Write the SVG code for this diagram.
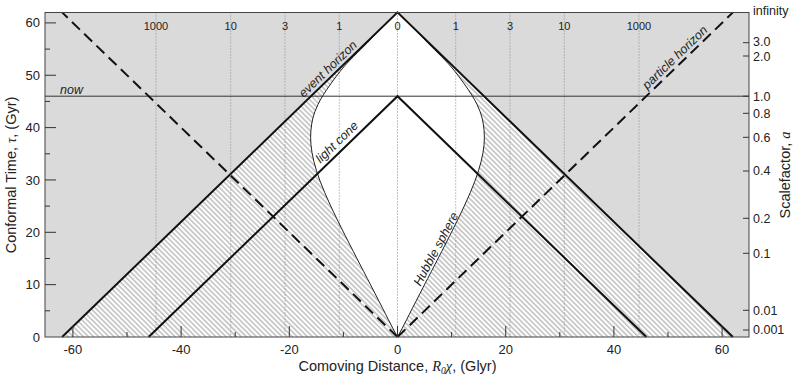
<svg xmlns="http://www.w3.org/2000/svg" width="800" height="380" viewBox="0 0 800 380">
<defs>
<style>
text{font-family:"Liberation Sans",Arial,sans-serif;fill:#222}
.num{font-size:13px}
.rnum{font-size:12.5px}
.z{font-size:11px;text-anchor:middle}
.lab{font-size:12.5px;font-style:italic}
.title{font-size:14.5px}
.serif{font-family:"Liberation Serif","Times New Roman",serif}
.thick{stroke:#111;stroke-width:2;fill:none}
.dash{stroke:#111;stroke-width:2;fill:none;stroke-dasharray:11 6}
.dot{stroke:#8a8a8a;stroke-width:1;stroke-dasharray:1 2;fill:none}
.tick{stroke:#333;stroke-width:1;fill:none}
</style>
<pattern id="hatch" patternUnits="userSpaceOnUse" width="3.6" height="3.6" patternTransform="rotate(-45)">
<rect width="3.6" height="3.6" fill="#fff"/>
<rect width="1.8" height="3.6" fill="#c9c9c9"/>
</pattern>
<path id="hub" d="M397.5,337 Q393.1,329.1 388.4,319.7 Q383.7,310.3 375.2,293.8 Q366.7,277.3 360.3,265 Q353.9,252.7 345.15,235.45 Q336.4,218.2 330.3,205.1 Q324.2,192 320.15,181.25 Q316.1,170.5 313.85,161.35 Q311.6,152.2 310.95,144.6 Q310.3,137 310.9,130.45 Q311.5,123.9 312.85,118.15 Q314.2,112.4 318.05,104.3 Q321.9,96.2 331.3,83.1 Q340.7,70 347.1,63.2 Q353.5,56.4 360.55,49.6 Q367.6,42.8 373.55,36.25 Q379.5,29.7 397.5,12.4"/>
</defs>

<g id="regions">
<rect x="45" y="12.5" width="704" height="324.5" fill="#dadada"/>
<polygon points="62.1,337 397.5,12.4 732.9,337" fill="url(#hatch)"/>
<use href="#hub" fill="#fff" stroke="none"/>
<use href="#hub" fill="#fff" stroke="none" transform="matrix(-1 0 0 1 795 0)"/>
</g>

<g id="redshift-grid">
<path class="dot" d="M156,12.5V337M230.7,12.5V337M285,12.5V337M339.3,12.5V337M397.5,12.5V337M455.7,12.5V337M510,12.5V337M564.3,12.5V337M639,12.5V337"/>
<text class="z" x="156" y="30">1000</text>
<text class="z" x="230.7" y="30">10</text>
<text class="z" x="285" y="30">3</text>
<text class="z" x="339.3" y="30">1</text>
<text class="z" x="397.5" y="30">0</text>
<text class="z" x="455.7" y="30">1</text>
<text class="z" x="510" y="30">3</text>
<text class="z" x="564.3" y="30">10</text>
<text class="z" x="639" y="30">1000</text>
</g>

<g id="connectors">
<line id="now-line" x1="45" y1="96.2" x2="749" y2="96.2" stroke="#333" stroke-width="1"/>
<use id="hubble-sphere-left" href="#hub" fill="none" stroke="#222" stroke-width="1"/>
<use id="hubble-sphere-right" href="#hub" fill="none" stroke="#222" stroke-width="1" transform="matrix(-1 0 0 1 795 0)"/>
<polyline id="event-horizon" class="thick" points="62.1,337 397.5,12.4 732.9,337"/>
<polyline id="light-cone" class="thick" points="148.6,337 397.5,96.2 646.4,337"/>
<path id="particle-horizon-left" class="dash" d="M397.5,337L62.1,12.4"/>
<path id="particle-horizon-right" class="dash" d="M397.5,337L732.9,12.4"/>
</g>

<g id="line-labels">
<text class="lab" x="60" y="94">now</text>
<text class="lab" transform="translate(306.5,100.9) rotate(-44)" y="-4">event horizon</text>
<text class="lab" transform="translate(650,92.8) rotate(-44)" y="-4">particle horizon</text>
<text class="lab" transform="translate(324,167.3) rotate(-44)" y="-5">light cone</text>
<text class="lab" transform="translate(422.8,288) rotate(-62)" y="-2.5">Hubble sphere</text>
</g>

<g id="axes">
<rect x="45" y="12.5" width="704" height="324.5" fill="none" stroke="#444" stroke-width="1"/>
<path class="tick" d="M45,284.65h11M45,232.3h11M45,179.95h11M45,127.6h11M45,75.25h11M45,22.9h11M45,310.8h5M45,258.5h5M45,206.1h5M45,153.8h5M45,101.4h5M45,49.1h5"/>
<path class="tick" d="M72.9,337v-11M181.1,337v-11M289.3,337v-11M397.5,337v-11M505.7,337v-11M613.9,337v-11M722.1,337v-11M127,337v-5M235.2,337v-5M343.4,337v-5M451.6,337v-5M559.8,337v-5M668,337v-5"/>
<path class="tick" d="M749,42.7h-6M749,56h-6M749,96.2h-6M749,113.3h-6M749,137.3h-6M749,171h-6M749,218.3h-6M749,253.3h-6M749,310.3h-6M749,330h-6"/>
<g class="num" text-anchor="end">
<text x="40" y="341.5">0</text>
<text x="40" y="289.2">10</text>
<text x="40" y="236.8">20</text>
<text x="40" y="184.5">30</text>
<text x="40" y="132.1">40</text>
<text x="40" y="79.8">50</text>
<text x="40" y="27.4">60</text>
</g>
<g class="num" text-anchor="middle">
<text x="72.9" y="353.5">-60</text>
<text x="181.1" y="353.5">-40</text>
<text x="289.3" y="353.5">-20</text>
<text x="397.5" y="353.5">0</text>
<text x="505.7" y="353.5">20</text>
<text x="613.9" y="353.5">40</text>
<text x="722.1" y="353.5">60</text>
</g>
<g class="rnum">
<text x="753" y="14.5">infinity</text>
<text x="753" y="46.3">3.0</text>
<text x="753" y="61.3">2.0</text>
<text x="753" y="100.6">1.0</text>
<text x="753" y="117.7">0.8</text>
<text x="753" y="141.7">0.6</text>
<text x="753" y="175.4">0.4</text>
<text x="753" y="222.7">0.2</text>
<text x="753" y="257.7">0.1</text>
<text x="753" y="314.7">0.01</text>
<text x="753" y="334.4">0.001</text>
</g>
<text class="title" x="397.5" y="370.5" text-anchor="middle">Comoving Distance, <tspan class="serif" font-style="italic">R</tspan><tspan class="serif" font-style="italic" font-size="9.5" dy="3">0</tspan><tspan class="serif" font-style="italic" dy="-3">χ</tspan>, (Glyr)</text>
<text class="title" transform="translate(16,175) rotate(-90)" text-anchor="middle">Conformal Time, <tspan class="serif" font-style="italic">τ</tspan>, (Gyr)</text>
<text class="title" transform="translate(790,175) rotate(-90)" text-anchor="middle">Scalefactor, <tspan class="serif" font-style="italic">a</tspan></text>
</g>
</svg>
